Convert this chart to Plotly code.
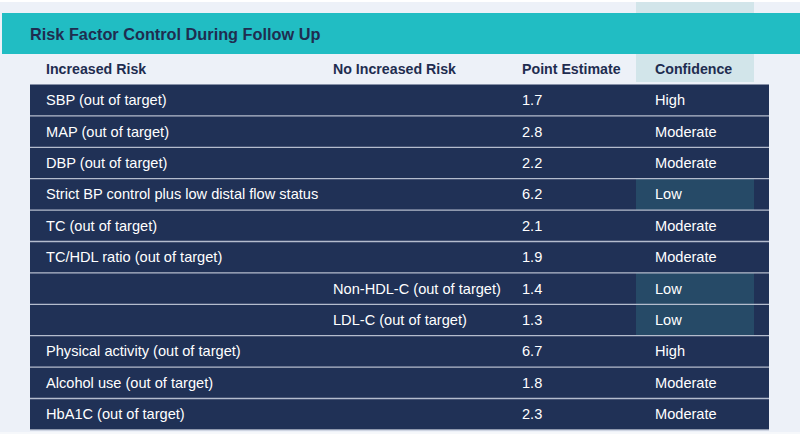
import plotly.graph_objects as go

# Table content
factors = ["SBP (out of target)", "MAP (out of target)", "DBP (out of target)",
           "Strict BP control plus low distal flow status", "TC (out of target)",
           "TC/HDL ratio (out of target)", "Non-HDL-C (out of target)",
           "LDL-C (out of target)", "Physical activity (out of target)",
           "Alcohol use (out of target)", "HbA1C (out of target)"]
increased_risk = [True, True, True, True, True, True, False, False, True, True, True]
point_estimates = [1.7, 2.8, 2.2, 6.2, 2.1, 1.9, 1.4, 1.3, 6.7, 1.8, 2.3]
confidence = ["High", "Moderate", "Moderate", "Low", "Moderate", "Moderate",
              "Low", "Low", "High", "Moderate", "Moderate"]
headers = ["Increased Risk", "No Increased Risk", "Point Estimate", "Confidence"]
title = "Risk Factor Control During Follow Up"

W, H = 800, 434
BG = "#edf1f8"
TEAL = "#21bdc3"
NAVY = "#203156"
DARK_TEXT = "#1f2d50"
LOW_FILL = "#264a67"
CONF_HEAD = "#d2e5ea"
FONT = "Liberation Sans, Arial, Helvetica, sans-serif"

# column x positions (pixels)
COL_X = [46, 333, 522, 655]
TABLE_X0, TABLE_X1 = 30, 769
CONF_X0, CONF_X1 = 636, 754

# row geometry: row i centre at ROW0 + i*ROW_H pixels
ROW0, ROW_H = 100.2, 31.4


def to_row(p):
    return (p - ROW0) / ROW_H


def paper_y(p):
    return 1 - p / H


n = len(factors)
shapes = []

# top white strip
shapes.append(dict(type="rect", xref="paper", yref="paper", x0=0, x1=1,
                   y0=paper_y(2), y1=1, fillcolor="white", line_width=0, layer="below"))
# confidence header highlight
shapes.append(dict(type="rect", xref="x", yref="paper", x0=CONF_X0, x1=CONF_X1,
                   y0=paper_y(82), y1=paper_y(2), fillcolor=CONF_HEAD, line_width=0,
                   layer="below"))
# teal banner
shapes.append(dict(type="rect", xref="x", yref="paper", x0=2, x1=W,
                   y0=paper_y(54), y1=paper_y(13), fillcolor=TEAL, line_width=0,
                   layer="below"))
# navy table body
shapes.append(dict(type="rect", xref="x", yref="y", x0=TABLE_X0, x1=TABLE_X1,
                   y0=-0.5, y1=n - 0.5, fillcolor=NAVY, line_width=0, layer="below"))
# low-confidence highlights
for i, c in enumerate(confidence):
    if c == "Low":
        shapes.append(dict(type="rect", xref="x", yref="y", x0=CONF_X0, x1=CONF_X1,
                           y0=i - 0.5, y1=i + 0.5, fillcolor=LOW_FILL, line_width=0,
                           layer="below"))
# row separators
for i in range(1, n + 1):
    shapes.append(dict(type="line", xref="x", yref="y", x0=TABLE_X0, x1=TABLE_X1,
                       y0=i - 0.5, y1=i - 0.5, line=dict(color="#b4bccd", width=1.3),
                       layer="below"))
# bottom light strip
shapes.append(dict(type="rect", xref="paper", yref="paper", x0=0, x1=1,
                   y0=0, y1=paper_y(432), fillcolor="#f6f8fb", line_width=0,
                   layer="below"))

common = dict(xanchor="left", yanchor="middle", showarrow=False,
              borderpad=0, borderwidth=0)

annotations = [dict(text="<b>%s</b>" % title, x=30, y=paper_y(34.5), xref="x",
                    yref="paper", font=dict(size=16.3, color=DARK_TEXT, family=FONT),
                    **common)]
for hx, h in zip(COL_X, headers):
    annotations.append(dict(text="<b>%s</b>" % h, x=hx, y=paper_y(69), xref="x",
                            yref="paper",
                            font=dict(size=14.2, color=DARK_TEXT, family=FONT),
                            **common))

rows = list(range(n))
label_x = [COL_X[0] if inc else COL_X[1] for inc in increased_risk]
cell_font = dict(size=14.6, color="white", family=FONT)

for i in rows:
    annotations.append(dict(text=factors[i], x=label_x[i], y=i, xref="x", yref="y",
                            font=cell_font, **common))
    annotations.append(dict(text="%.1f" % point_estimates[i], x=COL_X[2], y=i,
                            xref="x", yref="y", font=cell_font, **common))
    annotations.append(dict(text=confidence[i], x=COL_X[3], y=i, xref="x", yref="y",
                            font=cell_font, **common))

fig = go.Figure()
# invisible trace anchoring the row axis
fig.add_trace(go.Scatter(x=[COL_X[2]] * n, y=rows, mode="markers",
                         marker=dict(size=1, opacity=0), hoverinfo="skip",
                         showlegend=False))

fig.update_layout(
    width=W, height=H,
    margin=dict(l=0, r=0, t=0, b=0),
    paper_bgcolor=BG, plot_bgcolor=BG,
    shapes=shapes, annotations=annotations,
    xaxis=dict(range=[0, W], visible=False, fixedrange=True),
    # reversed: first row at the top
    yaxis=dict(range=[to_row(H), to_row(0)], visible=False, fixedrange=True),
    showlegend=False,
)

fig.write_html("out.html", config={"displayModeBar": False},
               post_script="document.body.style.margin='0';")
